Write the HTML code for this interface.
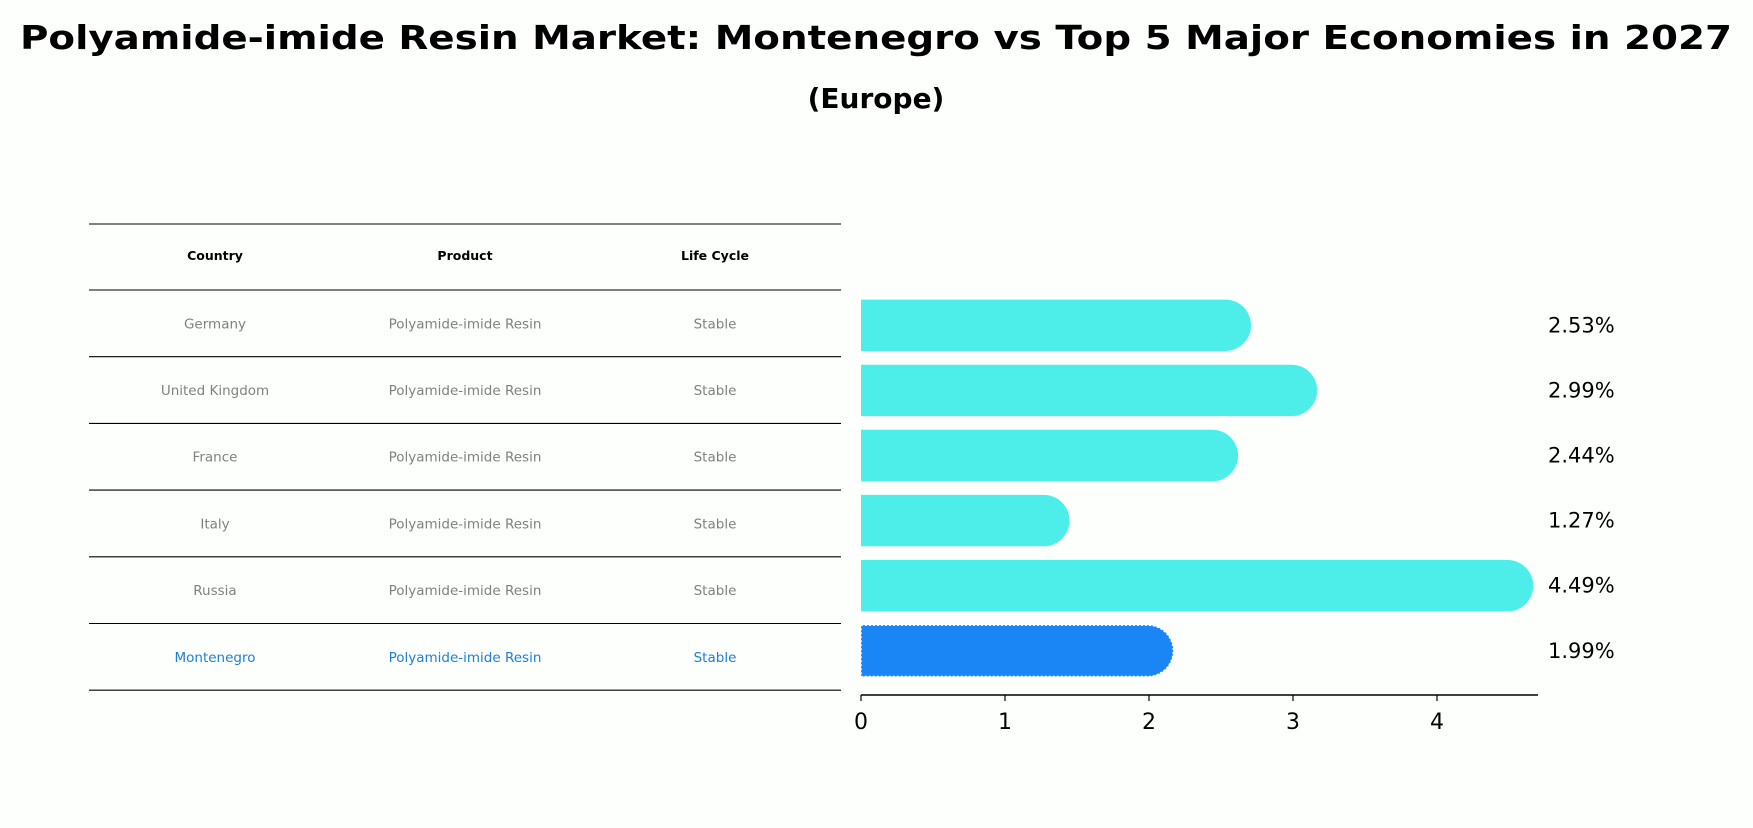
<!DOCTYPE html>
<html><head><meta charset="utf-8"><style>
body{margin:0;background:#fdfffd;}
svg text{font-family:"DejaVu Sans","Liberation Sans",sans-serif;}
</style></head><body>
<svg width="1753" height="823" xmlns="http://www.w3.org/2000/svg">
<rect width="1753" height="823" fill="#fdfffd"/>
<text x="876" y="49" text-anchor="middle" font-size="33" font-weight="bold" textLength="1712" lengthAdjust="spacingAndGlyphs">Polyamide-imide Resin Market: Montenegro vs Top 5 Major Economies in 2027</text>
<text x="876" y="108" text-anchor="middle" font-size="28" font-weight="bold">(Europe)</text>
<g id="table"></g>
<g id="bars"></g>
</svg>
<script>
const countries=["Germany","United Kingdom","France","Italy","Russia","Montenegro"];
const products=["Polyamide-imide Resin","Polyamide-imide Resin","Polyamide-imide Resin","Polyamide-imide Resin","Polyamide-imide Resin","Polyamide-imide Resin"];
const lifeCycles=["Stable","Stable","Stable","Stable","Stable","Stable"];
const values=[2.53,2.99,2.44,1.27,4.49,1.99];
const ticks=[0,1,2,3,4];
const NS="http://www.w3.org/2000/svg";
function mk(tag,attrs,parent){const e=document.createElementNS(NS,tag);for(const k in attrs)e.setAttribute(k,attrs[k]);parent.appendChild(e);return e;}
const x0=861,unit=144;
const xs=v=>x0+v*unit;
const rowC=i=>325.3+i*65.1;
const bh=51.4;
const bars=document.getElementById('bars');
values.forEach((v,i)=>{
  const last=i===values.length-1;
  const col=last?"#1a85f5":"#4deeea";
  const g=mk('g',{},bars);
  
  
  const y=rowC(i)-bh/2,r=bh/2;
  const p=mk('path',{d:`M${xs(0)},${y} H${xs(v)} A${r},${r} 0 0 1 ${xs(v)},${y+bh} H${xs(0)} Z`,fill:col},g);
  if(last){p.setAttribute('stroke','#ffffff');p.setAttribute('stroke-width','1.5');p.setAttribute('stroke-dasharray','2,2');}
  const t=mk('text',{x:1548,y:rowC(i)+7,'font-size':21,fill:'#000'},bars);
  t.textContent=v.toFixed(2)+'%';
  
  
});
const axY=695;
const ax=mk('line',{x1:xs(0),x2:1538,y1:axY,y2:axY,stroke:'#000','stroke-width':1.5},bars);


ticks.forEach(t=>{
  mk('line',{x1:xs(t),x2:xs(t),y1:axY,y2:axY+6,stroke:'#000','stroke-width':1.2},bars);
  const tx=mk('text',{x:xs(t),y:axY+34,'font-size':22,'text-anchor':'middle'},bars);
  tx.textContent=t;
  
  
});
const tb=document.getElementById('table');
const lineYs=[224,290];for(let i=1;i<=6;i++)lineYs.push(290+i*66.7);
lineYs.forEach(y=>{mk('line',{x1:89,x2:841,y1:y,y2:y,stroke:'#000','stroke-width':1.1},tb);});
const cx=[215,465,715];
["Country","Product","Life Cycle"].forEach((h,j)=>{
  const t=mk('text',{x:cx[j],y:260,'font-size':12.5,'font-weight':'bold','text-anchor':'middle'},tb);
  t.textContent=h;
  
  
});
countries.forEach((c,i)=>{
  const y=290+i*66.7+33.3+5;
  const col=i===countries.length-1?"#1a7fd9":"#808080";
  [c,products[i],lifeCycles[i]].forEach((s,j)=>{
    const t=mk('text',{x:cx[j],y:y,'font-size':13.5,'text-anchor':'middle',fill:col},tb);
    t.textContent=s;
    
    
  });
});
</script>
</body></html>
